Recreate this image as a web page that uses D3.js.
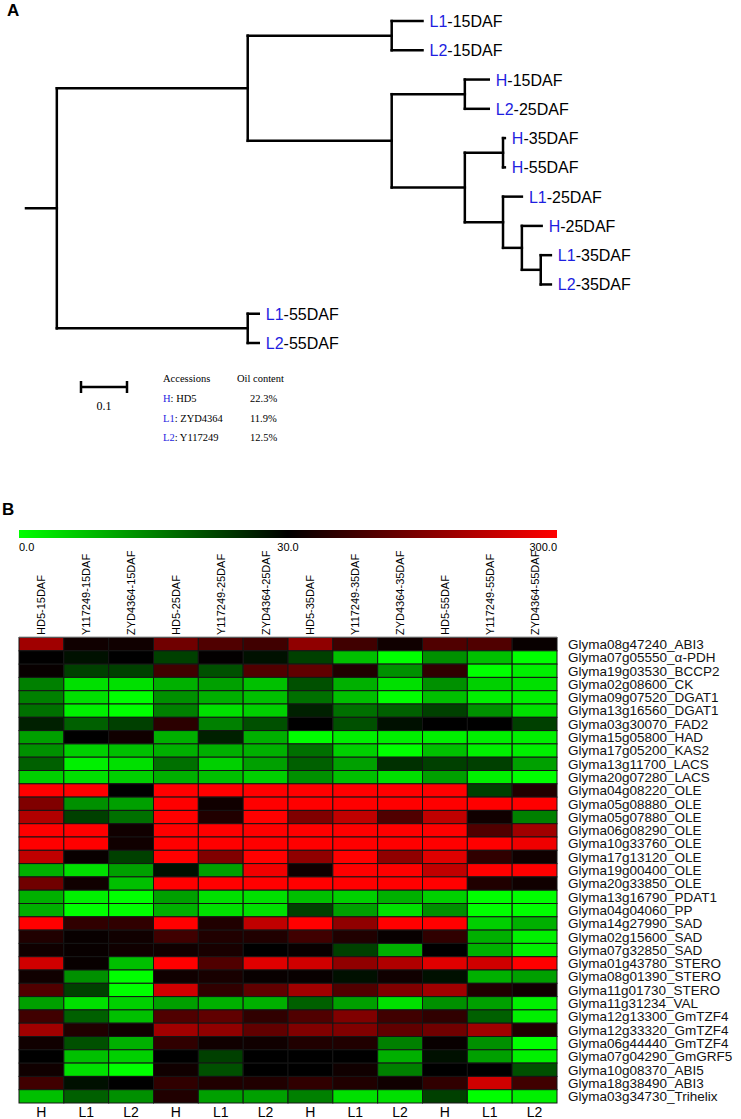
<!DOCTYPE html>
<html><head><meta charset="utf-8">
<script src="https://cdn.jsdelivr.net/npm/d3@7"></script>
<style>body{margin:0;background:#fff} svg{display:block}</style>
</head><body>
<svg id="c" width="741" height="1119"></svg>
<script>
// ---------- Panel A: dendrogram data ----------
const leafOrder = ["L1-15DAF","L2-15DAF","H-15DAF","L2-25DAF","H-35DAF","H-55DAF","L1-25DAF","H-25DAF","L1-35DAF","L2-35DAF","L1-55DAF","L2-55DAF"];
const nodeIds     = ["root","U","T","L1-15DAF","L2-15DAF","M","A","H-15DAF","L2-25DAF","B","C","H-35DAF","H-55DAF","D","L1-25DAF","E","H-25DAF","F","L1-35DAF","L2-35DAF","Lw","L1-55DAF","L2-55DAF"];
const nodeParents = [null,"root","U","T","T","U","M","A","A","M","B","C","C","B","D","D","E","E","F","F","root","Lw","Lw"];
const branchLengths = [0.067,0.415,0.313,0.067,0.067,0.313,0.159,0.052,0.052,0.159,0.083,0.004,0.004,0.083,0.041,0.041,0.043,0.041,0.022,0.022,0.415,0.024,0.024];
const scaleBarValue = 0.1;
const scaleBarLabel = "0.1";
const legendHeaders = ["Accessions","Oil content"];
const accessionCodes = ["H","L1","L2"];
const accessionNames = ["HD5","ZYD4364","Y117249"];
const oilContent = ["22.3%","11.9%","12.5%"];

// ---------- Panel B: heatmap data ----------
const colorDomain = [0, 30, 300];
const colorTickLabels = ["0.0","30.0","300.0"];
const sampleNames = ["HD5-15DAF","Y117249-15DAF","ZYD4364-15DAF","HD5-25DAF","Y117249-25DAF","ZYD4364-25DAF","HD5-35DAF","Y117249-35DAF","ZYD4364-35DAF","HD5-55DAF","Y117249-55DAF","ZYD4364-55DAF"];
const sampleShort = ["H","L1","L2","H","L1","L2","H","L1","L2","H","L1","L2"];
const genes = ["Glyma08g47240_ABI3","Glyma07g05550_\u03b1-PDH","Glyma19g03530_BCCP2","Glyma02g08600_CK","Glyma09g07520_DGAT1","Glyma13g16560_DGAT1","Glyma03g30070_FAD2","Glyma15g05800_HAD","Glyma17g05200_KAS2","Glyma13g11700_LACS","Glyma20g07280_LACS","Glyma04g08220_OLE","Glyma05g08880_OLE","Glyma05g07880_OLE","Glyma06g08290_OLE","Glyma10g33760_OLE","Glyma17g13120_OLE","Glyma19g00400_OLE","Glyma20g33850_OLE","Glyma13g16790_PDAT1","Glyma04g04060_PP","Glyma14g27990_SAD","Glyma02g15600_SAD","Glyma07g32850_SAD","Glyma01g43780_STERO","Glyma08g01390_STERO","Glyma11g01730_STERO","Glyma11g31234_VAL","Glyma12g13300_GmTZF4","Glyma12g33320_GmTZF4","Glyma06g44440_GmTZF4","Glyma07g04290_GmGRF5","Glyma10g08370_ABI5","Glyma18g38490_ABI3","Glyma03g34730_Trihelix"];
const expression = [
 [199,47,47,149,115,98,182,98,47,115,115,38],
 [31,28,30,22.5,33,28,22.5,7.4,0,13.1,7.4,0],
 [38,22.5,22.5,98,20.6,115,132,64,13.1,81,0,1.8],
 [15,3.6,3.6,9.3,11.2,7.4,20.6,9.3,3.6,13.1,5.5,3.6],
 [15,3.6,0,13.1,9.3,7.4,16.8,7.4,0,7.4,1.8,1.8],
 [16.8,1.8,0,15,3.6,5.5,26.2,16.8,18.7,22.5,13.1,3.6],
 [26.2,18.7,22.5,75,15,20.6,30,20.6,28.1,30,30,22.5],
 [11.2,30,47,9.3,26.2,9.3,0,1.8,1.8,1.8,1.8,1.8],
 [13.1,5.5,7.4,9.3,9.3,9.3,16.8,5.5,0,7.4,1.8,1.8],
 [18.7,1.8,3.6,16.8,5.5,11.2,18.7,11.2,24.4,22.5,22.5,11.2],
 [5.5,3.6,5.5,9.3,7.4,5.5,13.1,7.4,3.6,11.2,1.8,0],
 [300,300,30,300,300,300,300,300,300,300,22.5,64],
 [166,13.1,11.2,300,47,300,300,300,300,300,300,300],
 [216,22.5,16.8,300,64,300,166,233,115,233,47,15],
 [300,300,47,300,300,300,300,300,300,300,115,199],
 [300,300,47,300,300,300,300,300,300,300,300,284],
 [233,38,22.5,300,166,300,182,300,182,267,81,47],
 [9.3,3.6,11.2,28.1,11.2,284,47,300,300,233,300,300],
 [149,47,7.4,300,300,300,300,300,300,300,64,47],
 [9.3,1.8,0,11.2,3.6,3.6,7.4,5.5,9.3,5.5,0,0],
 [9.3,0,0,9.3,3.6,3.6,22.5,11.2,3.6,13.1,0,0],
 [300,81,81,300,64,233,300,182,300,300,5.5,9.3],
 [64,38,47,98,64,64,98,64,38,81,9.3,1.8],
 [47,38,47,47,55,30,38,22.5,9.3,30,9.3,1.8],
 [250,38,7.4,300,115,267,250,182,216,267,250,300],
 [47,13.1,0,47,55,38,38,28.1,47,28.1,9.3,11.2],
 [115,22.5,0,250,81,132,199,115,166,199,64,47],
 [11.2,3.6,5.5,11.2,9.3,9.3,18.7,11.2,3.6,13.1,11.2,1.8],
 [98,18.7,7.4,115,132,81,115,166,98,81,18.7,1.8],
 [199,64,47,199,182,132,166,166,132,149,199,64],
 [47,20.6,9.3,81,47,47,64,64,15,38,13.1,0],
 [30,7.4,5.5,30,22.5,30,30,30,9.3,28.1,11.2,1.8],
 [47,3.6,0,47,20.6,30,30,47,15,30,30,20.6],
 [98,28.1,30,81,64,64,81,64,47,81,250,98],
 [7.4,18.7,13.1,64,11.2,11.2,15,3.6,3.6,22.5,0,1.8]
];

// ---------- drawing ----------
const svg = d3.select("#c");
const SANS = "Arial, 'Liberation Sans', sans-serif";
const SERIF = "'Times New Roman', 'Liberation Serif', serif";
const BLUE = "#1e1ee0";

svg.append("text").attr("x", 7).attr("y", 16).attr("font-family", SANS).attr("font-weight", "bold").attr("font-size", 17).text("A");

const table = nodeIds.map((id, i) => ({id, parent: nodeParents[i], len: branchLengths[i]}));
const root = d3.stratify().id(d => d.id).parentId(d => d.parent)(table);
root.each(n => { n.dist = (n.parent ? n.parent.dist : 0) + n.data.len; });
const xTree = d3.scaleLinear().domain([0, 1]).range([26, 486]);
const yLeaf = d3.scalePoint().domain(leafOrder).range([21, 343]);
root.eachAfter(n => {
  n.py = n.children ? (n.children[0].py + n.children[n.children.length - 1].py) / 2 : yLeaf(n.id);
  n.px = xTree(n.dist);
});
const gTree = svg.append("g").attr("stroke", "#000").attr("stroke-width", 2.5).attr("stroke-linecap", "square").attr("fill", "none");
gTree.append("line").attr("x1", xTree(0)).attr("x2", root.px).attr("y1", root.py).attr("y2", root.py);
root.descendants().forEach(n => {
  if (n.parent) gTree.append("line").attr("x1", n.parent.px).attr("x2", n.px).attr("y1", n.py).attr("y2", n.py);
  if (n.children) gTree.append("line").attr("x1", n.px).attr("x2", n.px)
      .attr("y1", n.children[0].py).attr("y2", n.children[n.children.length - 1].py);
});
root.leaves().forEach(n => {
  const parts = n.id.split("-");
  const t = svg.append("text").attr("x", n.px + 7).attr("y", n.py + 6)
    .attr("font-family", SANS).attr("font-size", 16);
  t.append("tspan").attr("fill", BLUE).text(parts[0]);
  t.append("tspan").attr("fill", "#000").text("-" + parts.slice(1).join("-"));
});

const sbX0 = 81, sbY = 387;
const sbLen = xTree(scaleBarValue) - xTree(0);
const gSb = svg.append("g").attr("stroke", "#000").attr("stroke-width", 2.5);
gSb.append("line").attr("x1", sbX0).attr("x2", sbX0 + sbLen).attr("y1", sbY).attr("y2", sbY);
gSb.append("line").attr("x1", sbX0).attr("x2", sbX0).attr("y1", sbY - 6).attr("y2", sbY + 6);
gSb.append("line").attr("x1", sbX0 + sbLen).attr("x2", sbX0 + sbLen).attr("y1", sbY - 6).attr("y2", sbY + 6);
svg.append("text").attr("x", sbX0 + sbLen / 2).attr("y", 410).attr("text-anchor", "middle")
  .attr("font-family", SERIF).attr("font-size", 12).text(scaleBarLabel);

const legX = [163, 237];
svg.append("text").attr("x", legX[0]).attr("y", 382).attr("font-family", SERIF).attr("font-size", 10.5).text(legendHeaders[0]);
svg.append("text").attr("x", legX[1]).attr("y", 382).attr("font-family", SERIF).attr("font-size", 10.5).text(legendHeaders[1]);
accessionCodes.forEach((c, i) => {
  const y = 402 + i * 19.5;
  const t = svg.append("text").attr("x", legX[0]).attr("y", y).attr("font-family", SERIF).attr("font-size", 10.5);
  t.append("tspan").attr("fill", BLUE).text(c);
  t.append("tspan").attr("fill", "#000").text(": " + accessionNames[i]);
  svg.append("text").attr("x", 250).attr("y", y).attr("font-family", SERIF).attr("font-size", 10.5).text(oilContent[i]);
});

svg.append("text").attr("x", 2).attr("y", 515).attr("font-family", SANS).attr("font-weight", "bold").attr("font-size", 17).text("B");

const color = d3.scaleLinear().domain(colorDomain).range(["#00ff00", "#000000", "#ff0000"]);
const hmX0 = 19, hmX1 = 557;
const xBar = d3.scaleLinear().domain(colorDomain).range([hmX0, (hmX0 + hmX1) / 2, hmX1]);
const defs = svg.append("defs");
const grad = defs.append("linearGradient").attr("id", "cg").attr("x1", "0%").attr("x2", "100%");
d3.range(0, 1.0001, 0.05).forEach(t => {
  const v = xBar.invert(hmX0 + t * (hmX1 - hmX0));
  grad.append("stop").attr("offset", (t * 100) + "%").attr("stop-color", color(v));
});
svg.append("rect").attr("x", hmX0).attr("y", 530).attr("width", hmX1 - hmX0).attr("height", 8).attr("fill", "url(#cg)");
colorDomain.forEach((v, i) => {
  svg.append("text").attr("x", xBar(v)).attr("y", 551)
    .attr("text-anchor", i === 0 ? "start" : (i === colorDomain.length - 1 ? "end" : "middle"))
    .attr("font-family", SANS).attr("font-size", 11).text(colorTickLabels[i]);
});

const hmY0 = 637.5, hmY1 = 1103;
const xCol = d3.scaleBand().domain(d3.range(sampleNames.length)).range([hmX0, hmX1]);
const yRow = d3.scaleBand().domain(genes).range([hmY0, hmY1]);

sampleNames.forEach((s, j) => {
  const cx = xCol(j) + xCol.bandwidth() / 2;
  svg.append("text").attr("transform", `translate(${cx + 4},635) rotate(-90)`)
    .attr("text-anchor", "start")
    .attr("font-family", SANS).attr("font-size", 11).text(s);
});

const gCells = svg.append("g");
genes.forEach((g, i) => {
  expression[i].forEach((v, j) => {
    gCells.append("rect").attr("x", xCol(j)).attr("y", yRow(g))
      .attr("width", xCol.bandwidth()).attr("height", yRow.bandwidth())
      .attr("fill", color(v)).attr("stroke", "#141414").attr("stroke-width", 1);
  });
  svg.append("text").attr("x", 568).attr("y", yRow(g) + yRow.bandwidth() / 2 + 4.8)
    .attr("font-family", SANS).attr("font-size", 13.5).attr("fill", "#111").text(g);
});
svg.append("line").attr("x1", hmX0).attr("x2", hmX1).attr("y1", hmY0 - 0.5).attr("y2", hmY0 - 0.5).attr("stroke", "#999").attr("stroke-width", 1);

sampleShort.forEach((s, j) => {
  svg.append("text").attr("x", xCol(j) + xCol.bandwidth() / 2).attr("y", 1117)
    .attr("text-anchor", "middle").attr("font-family", SANS).attr("font-size", 14).text(s);
});
</script>
</body></html>
